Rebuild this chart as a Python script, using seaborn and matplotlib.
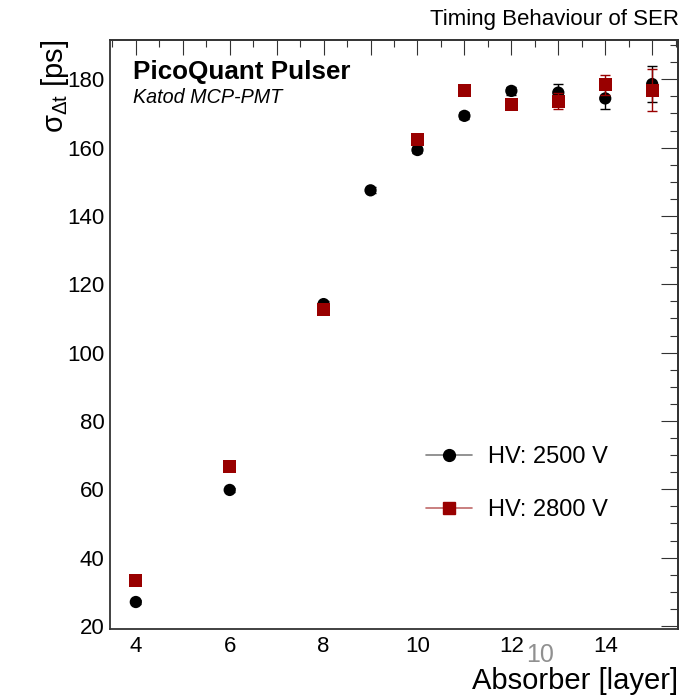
import matplotlib
matplotlib.use("Agg")
import matplotlib.pyplot as plt
from matplotlib.lines import Line2D
from matplotlib.ticker import MultipleLocator
import seaborn as sns
import pandas as pd

# ---- data ----
layers_2500 = [4, 6, 8, 9, 10, 11, 12, 13, 14, 15]
sigma_2500 = [27.0, 59.8, 114.2, 147.5, 159.3, 169.3, 176.6, 176.1, 174.4, 178.6]
err_2500 = [0.6, 0.7, 0.8, 0.9, 0.9, 1.0, 1.2, 2.6, 3.1, 5.3]

layers_2800 = [4, 6, 8, 10, 11, 12, 13, 14, 15]
sigma_2800 = [33.2, 66.8, 112.7, 162.5, 176.8, 172.7, 173.6, 178.4, 176.8]
err_2800 = [0.6, 0.7, 0.8, 0.9, 1.0, 1.2, 2.3, 3.0, 6.1]

labels = ["HV: 2500 V", "HV: 2800 V"]
xticks = [4, 6, 8, 10, 12, 14]
yticks = [20, 40, 60, 80, 100, 120, 140, 160, 180]

sns.set_theme(style="white")
plt.rcParams["font.family"] = ["Liberation Sans", "DejaVu Sans"]
plt.rcParams["mathtext.fontset"] = "custom"
plt.rcParams["mathtext.rm"] = "Liberation Sans"
plt.rcParams["mathtext.it"] = "Liberation Sans:italic"
plt.rcParams["text.color"] = "black"
plt.rcParams["axes.labelcolor"] = "black"
plt.rcParams["xtick.labelcolor"] = "black"
plt.rcParams["ytick.labelcolor"] = "black"

black = "#000000"
red = "#990000"

df1 = pd.DataFrame({"layer": layers_2500, "sigma": sigma_2500, "err": err_2500, "hv": labels[0]})
df2 = pd.DataFrame({"layer": layers_2800, "sigma": sigma_2800, "err": err_2800, "hv": labels[1]})

fig = plt.figure(figsize=(7.0, 6.97), dpi=100)
ax = fig.add_axes([110 / 700, 1 - 629 / 697, 568 / 700, 589 / 697])

ax.errorbar(df1["layer"], df1["sigma"], yerr=df1["err"], fmt="none", ecolor=black,
            elinewidth=1.0, capsize=3.5, capthick=1.0, zorder=2)
sns.scatterplot(data=df1, x="layer", y="sigma", ax=ax, color=black, marker="o",
                s=78, edgecolor="none", linewidth=0, legend=False, zorder=3)
ax.errorbar(df2["layer"], df2["sigma"], yerr=df2["err"], fmt="none", ecolor=red,
            elinewidth=1.0, capsize=3.5, capthick=1.0, zorder=4)
sns.scatterplot(data=df2, x="layer", y="sigma", ax=ax, color=red, marker="s",
                s=88, edgecolor="none", linewidth=0, legend=False, zorder=5)

ax.set_xlim(3.45, 15.55)
ax.set_ylim(19.1, 191.5)

ax.set_xticks(xticks)
ax.set_yticks(yticks)
ax.xaxis.set_minor_locator(MultipleLocator(0.5))
ax.yaxis.set_minor_locator(MultipleLocator(4))
ax.tick_params(axis="both", which="major", direction="in", length=11.5, width=0.8,
               colors="#333333", labelcolor="black", labelsize=16)
ax.tick_params(axis="both", which="minor", direction="in", length=5, width=0.8, colors="#333333")
ax.tick_params(axis="x", pad=5)
ax.tick_params(axis="y", pad=4)

for sp in ax.spines.values():
    sp.set_color("#333333")
    sp.set_linewidth(1.3)

# secondary axes for top/right ticks (ROOT style)
top = ax.secondary_xaxis("top")
top.set_xticks(list(range(4, 16)))
top.xaxis.set_minor_locator(MultipleLocator(0.5))
top.tick_params(which="major", direction="in", length=11, width=0.8, colors="#333333", labeltop=False)
top.tick_params(which="minor", direction="in", length=5, width=0.8, colors="#333333")
top.spines["top"].set_color("#555555")
top.spines["top"].set_linewidth(1.3)

right = ax.secondary_yaxis("right")
right.set_yticks(yticks)
right.yaxis.set_minor_locator(MultipleLocator(5))
right.tick_params(which="major", direction="in", length=12.5, width=0.8, colors="#333333", labelright=False)
right.tick_params(which="minor", direction="in", length=5.5, width=0.8, colors="#333333")
right.spines["right"].set_color("#333333")
right.spines["right"].set_linewidth(1.3)

ax.set_xlabel("Absorber [layer]", fontsize=21, loc="right", va="center", color="black")
ax.xaxis.set_label_coords(1.0, -0.089)
ax.set_ylabel(r"$\mathrm{\sigma_{\Delta t}}$ [ps]", fontsize=21, loc="top", va="center", color="black")
ax.yaxis.set_label_coords(-0.097, 1.0)

ax.text(0.757, -0.044, "10", transform=ax.transAxes, fontsize=18, color="#909090",
        ha="center", va="center")

ax.text(0.041, 0.946, "PicoQuant Pulser", transform=ax.transAxes, fontsize=18.7,
        fontweight="bold", ha="left", va="center", color="black")
ax.text(0.041, 0.902, "Katod MCP-PMT", transform=ax.transAxes, fontsize=14.2,
        fontstyle="italic", ha="left", va="center", color="black")

fig.text(679 / 700, 1 - 20 / 697, "Timing Behaviour of SER", fontsize=16,
         ha="right", va="center", color="black")

handles = [
    Line2D([], [], color="#808080", lw=1.2, marker="o", markersize=8.5,
           markerfacecolor=black, markeredgecolor=black),
    Line2D([], [], color="#c06a6a", lw=1.2, marker="s", markersize=8.5,
           markerfacecolor=red, markeredgecolor=red),
]
leg = ax.legend(handles, labels, loc="upper left", bbox_to_anchor=((426 - 110) / 568, 0.310),
                frameon=False, fontsize=17, handlelength=1.95, handletextpad=0.68,
                labelspacing=1.3, borderpad=0, borderaxespad=0)
for t in leg.get_texts():
    t.set_color("black")

fig.savefig("out.png", dpi=100)
